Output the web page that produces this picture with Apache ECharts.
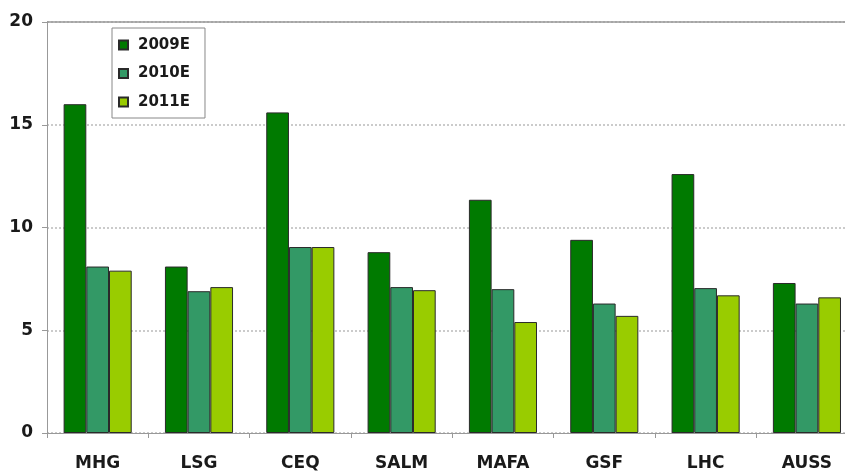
<!DOCTYPE html>
<html>
<head>
<meta charset="utf-8">
<script src="https://cdn.jsdelivr.net/npm/echarts@6/dist/echarts.min.js"></script>
<style>html,body{margin:0;padding:0;background:#fff}#c{width:845px;height:472px}</style>
</head>
<body>
<div id="c"></div>
<script>
const categories = ['MHG', 'LSG', 'CEQ', 'SALM', 'MAFA', 'GSF', 'LHC', 'AUSS'];
const seriesNames = ['2009E', '2010E', '2011E'];
const values2009 = [16.0, 8.1, 15.6, 8.8, 11.35, 9.4, 12.6, 7.3];
const values2010 = [8.1, 6.9, 9.05, 7.1, 7.0, 6.3, 7.05, 6.3];
const values2011 = [7.9, 7.1, 9.05, 6.95, 5.4, 5.7, 6.7, 6.6];
const yTicks = [0, 5, 10, 15, 20];

const colors = ['#007a00', '#339966', '#99cc00'];
const allValues = [values2009, values2010, values2011];
const font = 'DejaVu Sans';

const chart = echarts.init(document.getElementById('c'));
chart.setOption({
  animation: false,
  backgroundColor: '#fff',
  grid: { left: 47, width: 810.6, top: 22, bottom: 39, containLabel: false, outerBoundsMode: 'none' },
  legend: {
    orient: 'vertical',
    left: 112, top: 28,
    padding: [8, 15, 7, 6],
    itemGap: 10.5,
    itemWidth: 9, itemHeight: 9,
    icon: 'rect',
    borderColor: '#888', borderWidth: 1,
    textStyle: { fontFamily: font, fontWeight: 'bold', fontSize: 15, color: '#1a1a1a', lineHeight: 18, padding: [0, 0, 0, 5] },
    data: seriesNames
  },
  xAxis: {
    type: 'category',
    data: categories,
    axisLine: { lineStyle: { color: '#999', width: 1 } },
    axisTick: { show: true, length: 5, lineStyle: { color: '#999' } },
    axisLabel: { fontFamily: font, fontWeight: 'bold', fontSize: 17, color: '#1a1a1a', margin: 22 }
  },
  yAxis: {
    type: 'value',
    min: yTicks[0], max: yTicks[yTicks.length - 1], interval: 5,
    axisLine: { show: true, lineStyle: { color: '#999', width: 1 } },
    axisTick: { show: true, length: 5, lineStyle: { color: '#999' } },
    axisLabel: { fontFamily: font, fontWeight: 'bold', fontSize: 17, color: '#1a1a1a', margin: 14 },
    splitLine: { show: true, lineStyle: { color: '#bbb', type: [2, 2], width: 1.5 } }
  },
  series: seriesNames.map((name, i) => ({
    name: name,
    type: 'bar',
    data: allValues[i],
    barWidth: 22.7,
    barGap: '0%',
    itemStyle: { color: colors[i], borderColor: '#2a2a2a', borderWidth: 1 },
    markLine: i === 0 ? {
      silent: true, symbol: 'none', label: { show: false },
      lineStyle: { color: '#999', type: 'solid', width: 1.5 },
      data: [{ yAxis: yTicks[yTicks.length - 1] }]
    } : undefined
  }))
});
</script>
</body>
</html>
